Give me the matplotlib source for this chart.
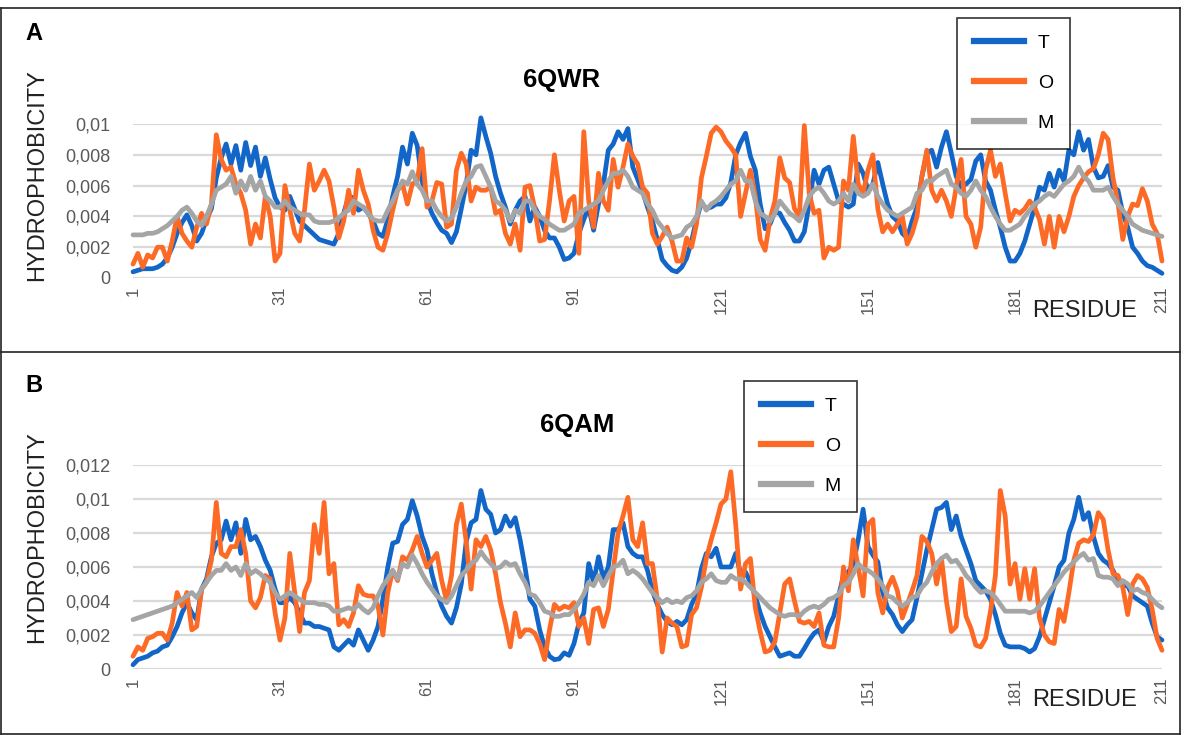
import matplotlib
matplotlib.use("Agg")
import matplotlib.pyplot as plt
from matplotlib.lines import Line2D
from matplotlib.ticker import FuncFormatter
import numpy as np

# Hydrophobicity profiles per residue (values in units of 1e-3)
SCALE = 1e-3
residue = np.arange(1, 212)
xtick_positions = [1, 31, 61, 91, 121, 151, 181, 211]
series_labels = ["T", "O", "M"]

t_6qwr = [0.4, 0.5, 0.6, 0.6, 0.6, 0.7, 0.9, 1.3, 2.0, 2.9,
          3.6, 4.1, 3.4, 2.4, 2.9, 3.8, 4.5, 6.5, 7.8, 8.7,
          7.4, 8.6, 7.0, 8.8, 7.3, 8.5, 6.6, 7.8, 6.4, 5.2,
          4.6, 4.4, 5.3, 4.5, 3.7, 3.4, 3.1, 2.8, 2.5, 2.4,
          2.3, 2.2, 2.9, 4.2, 5.3, 5.2, 4.4, 4.6, 4.2, 3.7,
          2.9, 2.7, 3.8, 5.3, 6.6, 8.5, 7.4, 9.4, 8.6, 6.3,
          5.0, 4.2, 3.6, 3.1, 2.9, 2.3, 3.0, 4.5, 6.1, 8.3,
          8.0, 10.4, 9.2, 8.1, 6.6, 5.5, 4.6, 3.5, 4.4, 5.0,
          5.3, 3.7, 4.6, 4.0, 3.1, 2.6, 2.6, 2.0, 1.2, 1.3,
          1.6, 2.9, 3.8, 4.6, 3.1, 4.8, 6.1, 8.3, 8.7, 9.5,
          9.0, 9.7, 7.2, 6.4, 5.6, 4.6, 3.7, 2.5, 1.2, 0.8,
          0.5, 0.4, 0.7, 1.3, 2.4, 3.8, 4.9, 4.5, 4.6, 4.8,
          4.8, 5.2, 6.2, 8.0, 8.8, 9.4, 7.9, 7.0, 4.8, 3.2,
          3.5, 4.3, 4.2, 3.6, 3.1, 2.4, 2.4, 3.0, 4.8, 7.0,
          6.1, 7.0, 7.2, 6.1, 5.0, 4.8, 4.6, 4.8, 7.4, 6.8,
          5.7, 6.1, 7.5, 6.1, 4.8, 4.0, 3.7, 2.9, 2.6, 3.7,
          4.6, 6.6, 8.1, 8.3, 7.2, 8.5, 9.5, 8.1, 6.6, 5.9,
          6.1, 6.4, 7.6, 8.0, 6.3, 5.7, 4.4, 3.3, 2.0, 1.1,
          1.1, 1.6, 2.4, 3.5, 4.6, 5.9, 5.7, 6.8, 5.9, 7.0,
          6.3, 8.3, 8.0, 9.5, 8.3, 9.0, 7.2, 6.5, 6.6, 7.3,
          5.9, 5.7, 4.2, 3.3, 2.0, 1.6, 1.1, 0.8, 0.7, 0.5, 0.3]

o_6qwr = [0.9, 1.6, 0.7, 1.5, 1.3, 2.0, 2.0, 1.1, 2.4, 4.0,
          2.9, 2.4, 2.0, 3.3, 4.2, 3.5, 4.8, 9.3, 7.7, 7.0,
          7.2, 6.1, 5.5, 4.4, 2.2, 3.5, 2.6, 5.3, 4.0, 1.1,
          1.6, 6.0, 4.4, 2.9, 2.4, 4.4, 7.4, 5.7, 6.3, 7.0,
          6.3, 4.6, 2.6, 3.7, 5.7, 4.2, 7.0, 5.7, 4.8, 3.1,
          2.0, 1.8, 2.9, 4.4, 5.7, 6.1, 4.8, 6.1, 6.3, 8.4,
          4.6, 5.0, 6.2, 6.1, 3.3, 3.5, 7.0, 8.1, 7.4, 5.0,
          5.9, 5.7, 5.7, 5.9, 4.2, 4.4, 2.9, 2.2, 3.5, 1.8,
          5.9, 6.0, 4.5, 2.4, 2.5, 5.0, 8.0, 5.7, 3.7, 5.0,
          5.3, 1.6, 9.5, 5.0, 3.3, 6.8, 5.0, 4.4, 7.7, 5.9,
          7.2, 8.7, 7.9, 7.4, 5.9, 5.5, 2.9, 2.2, 2.7, 3.3,
          2.4, 1.1, 1.1, 2.6, 2.0, 3.5, 6.5, 7.9, 9.4, 9.8,
          9.5, 8.9, 8.5, 8.0, 4.0, 5.5, 7.0, 5.3, 2.5, 1.8,
          3.8, 5.0, 7.8, 6.5, 6.2, 4.5, 4.0, 9.9, 5.5, 4.2,
          4.4, 1.3, 2.0, 1.8, 2.0, 6.3, 5.7, 9.2, 6.1, 5.5,
          7.0, 8.0, 4.5, 3.0, 3.5, 3.0, 3.5, 4.0, 2.2, 2.9,
          4.0, 6.6, 8.3, 5.7, 5.0, 5.7, 5.0, 4.0, 5.9, 7.7,
          4.0, 3.5, 2.0, 3.3, 7.0, 8.3, 6.6, 7.4, 5.5, 3.7,
          4.4, 4.2, 4.5, 5.0, 4.6, 3.8, 2.2, 4.0, 2.0, 4.0,
          3.0, 4.0, 5.3, 6.0, 6.5, 6.9, 7.1, 8.0, 9.4, 9.0,
          6.5, 4.9, 2.5, 4.0, 4.8, 4.7, 5.8, 5.0, 3.5, 2.9, 1.1]

m_6qwr = [2.8, 2.8, 2.8, 2.9, 2.9, 3.0, 3.2, 3.4, 3.7, 4.0,
          4.4, 4.6, 4.2, 3.7, 3.4, 4.0, 4.8, 5.7, 5.9, 6.1,
          6.6, 5.5, 6.3, 5.7, 6.6, 5.7, 6.3, 5.3, 5.0, 4.6,
          4.6, 5.0, 4.6, 4.4, 4.2, 4.1, 4.1, 3.7, 3.6, 3.6,
          3.6, 3.7, 3.9, 4.2, 4.4, 5.0, 4.8, 4.6, 4.2, 3.8,
          3.7, 3.7, 4.4, 5.0, 5.7, 6.3, 6.1, 6.9, 6.1, 5.7,
          5.0, 5.0, 4.4, 4.0, 3.7, 3.9, 4.6, 5.5, 6.3, 6.6,
          7.2, 7.3, 6.6, 5.9, 5.0, 4.8, 4.4, 3.7, 4.4, 4.2,
          5.0, 5.0, 4.4, 4.0, 3.8, 3.5, 3.3, 3.1, 3.1, 3.3,
          3.5, 4.2, 4.4, 4.6, 4.8, 5.0, 5.7, 6.3, 6.8, 6.8,
          7.0, 6.6, 5.9, 5.7, 5.5, 4.8, 4.4, 3.7, 3.3, 2.9,
          2.6, 2.7, 2.8, 3.3, 3.5, 4.0, 5.0, 4.4, 4.8, 5.0,
          5.3, 5.7, 6.1, 6.3, 7.0, 6.3, 6.3, 5.0, 4.2, 4.0,
          3.7, 4.2, 5.0, 4.6, 4.2, 4.0, 3.7, 4.4, 5.3, 5.7,
          5.9, 5.5, 5.0, 4.8, 5.0, 5.5, 5.0, 6.1, 5.5, 5.3,
          5.5, 6.1, 5.3, 4.8, 4.4, 4.2, 4.0, 4.2, 4.4, 4.6,
          5.5, 5.7, 6.3, 6.3, 6.6, 6.8, 7.0, 6.1, 5.9, 5.5,
          5.3, 5.7, 6.3, 5.7, 5.3, 4.6, 4.0, 3.5, 3.1, 3.1,
          3.3, 3.5, 4.0, 4.4, 4.8, 5.0, 5.3, 5.5, 5.3, 5.7,
          6.1, 6.3, 6.6, 7.2, 6.6, 6.3, 5.7, 5.7, 5.7, 5.9,
          5.3, 4.8, 4.4, 4.0, 3.5, 3.3, 3.1, 3.0, 2.9, 2.8, 2.7]

t_6qam = [0.25, 0.55, 0.65, 0.75, 0.95, 1.05, 1.3, 1.4, 1.9, 2.5,
          3.3, 3.9, 3.3, 2.9, 4.7, 5.3, 6.6, 7.4, 7.6, 8.7,
          7.6, 8.6, 6.8, 8.8, 7.6, 7.8, 7.2, 6.4, 5.8, 4.7,
          3.9, 3.9, 4.2, 3.9, 3.3, 2.7, 2.7, 2.5, 2.5, 2.4,
          2.3, 1.3, 1.1, 1.4, 1.7, 1.4, 2.3, 1.7, 1.1, 1.7,
          2.5, 4.1, 6.0, 7.4, 7.5, 8.5, 8.8, 9.9, 9.0, 7.8,
          7.0, 5.6, 4.5, 3.7, 3.1, 2.7, 3.6, 5.0, 7.5, 8.6,
          8.8, 10.5, 9.4, 9.1, 8.0, 8.2, 9.0, 8.4, 8.9, 7.6,
          6.0, 4.1, 3.7, 2.3, 1.3, 0.75, 0.55, 0.6, 0.95, 0.8,
          1.5, 2.7, 3.3, 6.2, 5.1, 6.6, 5.3, 6.0, 8.2, 8.2,
          8.6, 7.2, 6.8, 6.6, 6.6, 5.8, 4.6, 3.8, 3.2, 2.8,
          2.6, 2.8, 2.6, 2.9, 3.8, 4.4, 5.9, 6.8, 6.6, 7.1,
          6.0, 6.0, 6.0, 6.8, 5.6, 5.7, 5.1, 4.3, 3.3, 2.5,
          1.9, 1.3, 0.75, 0.85, 0.95, 0.75, 0.75, 1.2, 1.7, 2.1,
          2.3, 1.6, 2.5, 3.1, 4.3, 5.5, 5.7, 6.2, 7.6, 9.4,
          7.2, 6.7, 6.3, 4.5, 3.6, 3.2, 2.6, 2.2, 2.6, 2.9,
          4.2, 5.6, 7.0, 8.2, 9.4, 9.5, 9.8, 8.2, 9.0, 7.8,
          7.0, 6.2, 5.2, 4.9, 4.6, 4.1, 3.2, 2.1, 1.4, 1.3,
          1.3, 1.3, 1.2, 1.0, 1.2, 1.9, 2.9, 3.9, 4.9, 6.0,
          6.4, 8.0, 8.8, 10.1, 8.8, 9.2, 7.8, 6.8, 6.4, 6.2,
          5.8, 5.1, 4.9, 4.9, 4.3, 4.1, 3.9, 3.7, 2.7, 1.9, 1.7]

o_6qam = [0.75, 1.3, 1.1, 1.8, 1.9, 2.1, 2.1, 1.7, 2.7, 4.5,
          3.7, 4.5, 2.3, 2.5, 4.7, 5.1, 6.4, 9.8, 6.8, 6.6,
          7.2, 7.2, 8.2, 6.8, 4.0, 3.6, 4.2, 5.5, 5.3, 3.3,
          1.7, 3.0, 6.8, 4.5, 2.2, 4.5, 5.2, 8.5, 6.8, 9.8,
          5.6, 6.2, 2.6, 2.9, 2.5, 3.3, 4.9, 4.4, 4.3, 4.3,
          3.7, 2.0, 4.5, 5.8, 5.2, 6.6, 6.4, 7.0, 7.8, 6.8,
          6.0, 6.4, 6.8, 5.2, 4.0, 5.5, 8.5, 9.7, 7.5, 4.7,
          7.6, 7.2, 7.8, 7.0, 5.6, 3.9, 2.7, 1.3, 3.3, 1.9,
          2.3, 2.3, 2.1, 1.5, 0.55, 2.3, 3.8, 3.5, 3.7, 3.6,
          3.9, 2.5, 3.0, 1.5, 3.5, 3.6, 2.5, 3.5, 5.8, 8.0,
          9.0, 10.1, 7.6, 7.2, 8.6, 6.2, 6.2, 4.1, 1.0, 3.0,
          2.7, 2.5, 1.3, 1.4, 3.2, 3.6, 4.8, 6.5, 7.6, 8.6,
          9.7, 10.0, 11.6, 8.5, 4.7, 6.2, 6.5, 3.6, 2.2, 1.0,
          1.1, 1.6, 3.3, 5.0, 5.3, 4.0, 2.8, 2.7, 2.8, 2.5,
          3.3, 1.4, 1.3, 1.3, 3.0, 6.0, 4.6, 7.6, 6.0, 4.3,
          8.5, 8.8, 4.5, 3.3, 4.8, 5.4, 4.6, 3.0, 3.8, 4.6,
          5.5, 7.8, 7.5, 6.8, 5.0, 6.5, 4.0, 2.2, 2.5, 5.3,
          3.1, 2.4, 1.4, 1.3, 1.8, 3.4, 5.5, 10.5, 9.0, 5.0,
          6.2, 4.1, 5.9, 4.1, 5.9, 3.0, 2.0, 1.6, 1.5, 3.5,
          2.8, 4.5, 6.4, 7.4, 7.6, 7.5, 7.9, 9.2, 8.8, 7.0,
          5.6, 5.5, 4.8, 3.2, 5.0, 5.5, 5.3, 4.8, 3.5, 1.8, 1.1]

m_6qam = [2.9, 3.0, 3.1, 3.2, 3.3, 3.4, 3.5, 3.6, 3.7, 3.9,
          4.1, 4.3, 4.5, 4.2, 4.7, 5.1, 5.5, 5.8, 5.8, 6.2,
          5.8, 6.0, 5.5, 6.2, 5.6, 5.8, 5.6, 5.3, 5.1, 4.5,
          4.1, 4.3, 4.5, 4.3, 4.1, 3.9, 3.9, 3.9, 3.8, 3.8,
          3.7, 3.4, 3.4, 3.5, 3.6, 3.5, 3.8, 3.5, 3.3, 3.6,
          4.3, 4.9, 5.3, 5.8, 5.3, 6.2, 6.0, 6.7, 6.2, 5.6,
          5.1, 4.7, 4.3, 4.1, 3.9, 4.3, 4.9, 5.5, 5.8, 6.2,
          6.4, 6.9, 6.5, 6.2, 5.9, 6.0, 6.3, 6.1, 6.2, 5.6,
          5.1, 4.4, 4.3, 3.9, 3.4, 3.3, 3.1, 3.1, 3.2, 3.2,
          3.5, 3.9, 4.4, 5.1, 4.9, 5.5, 4.9, 5.5, 6.0, 6.1,
          6.4, 5.6, 5.8, 5.6, 5.3, 4.9, 4.5, 4.2, 3.9, 4.1,
          3.9, 4.0, 3.9, 4.2, 4.3, 4.6, 5.1, 5.3, 5.6, 5.2,
          5.1, 5.1, 5.5, 5.3, 5.3, 5.1, 4.8, 4.5, 4.2, 3.9,
          3.6, 3.4, 3.2, 3.1, 3.2, 3.2, 3.1, 3.4, 3.6, 3.7,
          3.6, 3.8, 4.1, 4.2, 4.4, 4.9, 5.1, 5.6, 6.2, 5.9,
          5.8, 5.6, 5.3, 4.9, 4.3, 4.2, 3.9, 3.7, 3.9, 4.2,
          4.3, 4.8, 5.1, 5.7, 6.2, 6.5, 6.7, 6.3, 6.4, 6.0,
          5.5, 5.2, 4.8, 4.5, 4.6, 4.5, 4.2, 3.8, 3.4, 3.4,
          3.4, 3.4, 3.4, 3.3, 3.4, 3.7, 4.1, 4.5, 4.9, 5.3,
          5.7, 6.0, 6.3, 6.6, 6.8, 6.4, 6.5, 5.5, 5.4, 5.4,
          5.3, 4.9, 5.2, 5.0, 4.6, 4.7, 4.5, 4.4, 4.1, 3.8, 3.6]

COLORS = {"T": "#1266C8", "O": "#FD6A25", "M": "#A5A5A5"}
TEXT_GREY = "#595959"
GRID_GREY = "#D9D9D9"
FONT = "Liberation Sans"

W, H = 1184, 735
fig = plt.figure(figsize=(W / 100, H / 100), dpi=100)
fig.patch.set_facecolor("white")


def fx(px):
    return px / W


def fy(py):
    return 1 - py / H


def comma_fmt(v, _pos):
    if abs(v) < 1e-12:
        return "0"
    return ("%g" % v).replace(".", ",")


def draw_panel(ax, t, o, m, ymax, yticks):
    for vals, key in ((t, "T"), (o, "O"), (m, "M")):
        ax.plot(residue, np.array(vals) * SCALE, color=COLORS[key], lw=3.4,
                solid_joinstyle="round", solid_capstyle="round", clip_on=False,
                zorder=3)
    ax.set_xlim(1, 211)
    ax.set_ylim(0, ymax)
    ax.set_yticks(yticks)
    ax.yaxis.set_major_formatter(FuncFormatter(comma_fmt))
    ax.set_xticks(xtick_positions)
    ax.set_xticklabels([str(v) for v in xtick_positions], rotation=90,
                       fontsize=12, color=TEXT_GREY, family=FONT)
    for lbl in ax.get_yticklabels():
        lbl.set_fontsize(13)
        lbl.set_color(TEXT_GREY)
        lbl.set_family(FONT)
    ax.yaxis.grid(True, color=GRID_GREY, lw=1.6)
    ax.set_axisbelow(True)
    ax.tick_params(length=0, pad=6)
    ax.tick_params(axis="y", pad=16)
    for sp in ax.spines.values():
        sp.set_visible(False)
    ax.patch.set_alpha(0)


def draw_legend(left_px, top_px):
    handles = [Line2D([], [], color=COLORS[k], lw=4.5) for k in series_labels]
    leg = fig.legend(handles, series_labels, loc="upper left",
                     bbox_to_anchor=(fx(left_px), fy(top_px)),
                     frameon=True, fancybox=False, edgecolor="black",
                     prop={"family": FONT, "size": 14},
                     handlelength=2.6, handletextpad=0.7, labelspacing=1.15,
                     borderpad=0.85, borderaxespad=0)
    leg.get_frame().set_linewidth(1.2)
    return leg


# Panel A: 6QWR
axA = fig.add_axes([fx(133), fy(278), (1162 - 133) / W, (278 - 124) / H])
draw_panel(axA, t_6qwr, o_6qwr, m_6qwr, 0.01,
           [0, 0.002, 0.004, 0.006, 0.008, 0.01])

# Panel B: 6QAM
axB = fig.add_axes([fx(133), fy(669), (1162 - 133) / W, (669 - 465) / H])
draw_panel(axB, t_6qam, o_6qam, m_6qam, 0.012,
           [0, 0.002, 0.004, 0.006, 0.008, 0.01, 0.012])

# Titles, panel letters, axis titles
fig.text(fx(562), fy(80), "6QWR", ha="center", va="center", fontsize=18.5,
         fontweight="bold", family=FONT)
fig.text(fx(577), fy(425), "6QAM", ha="center", va="center", fontsize=18.5,
         fontweight="bold", family=FONT)
fig.text(fx(34), fy(33), "A", ha="center", va="center", fontsize=17,
         fontweight="bold", family=FONT)
fig.text(fx(34), fy(385), "B", ha="center", va="center", fontsize=17,
         fontweight="bold", family=FONT)
for ycenter in (175, 537):
    fig.text(fx(37), fy(ycenter), "HYDROPHOBICITY", ha="center", va="center",
             rotation=90, fontsize=17, family=FONT, color="#222222")
for ycenter in (311, 700):
    fig.text(fx(1085), fy(ycenter), "RESIDUE", ha="center", va="center",
             fontsize=17, family=FONT, color="#222222")

draw_legend(957, 18)
draw_legend(744, 381)

# Frame around both panels
frame_kw = dict(color="#222222", lw=1.2, transform=fig.transFigure)
fig.add_artist(Line2D([fx(1), fx(1180)], [fy(8), fy(8)], **frame_kw))
fig.add_artist(Line2D([fx(1), fx(1180)], [fy(352), fy(352)], **frame_kw))
fig.add_artist(Line2D([fx(1), fx(1180)], [fy(734), fy(734)], **frame_kw))
fig.add_artist(Line2D([fx(1), fx(1)], [fy(8), fy(734)], **frame_kw))
fig.add_artist(Line2D([fx(1180), fx(1180)], [fy(8), fy(734)], **frame_kw))

fig.savefig("out.png", dpi=100, facecolor="white")
